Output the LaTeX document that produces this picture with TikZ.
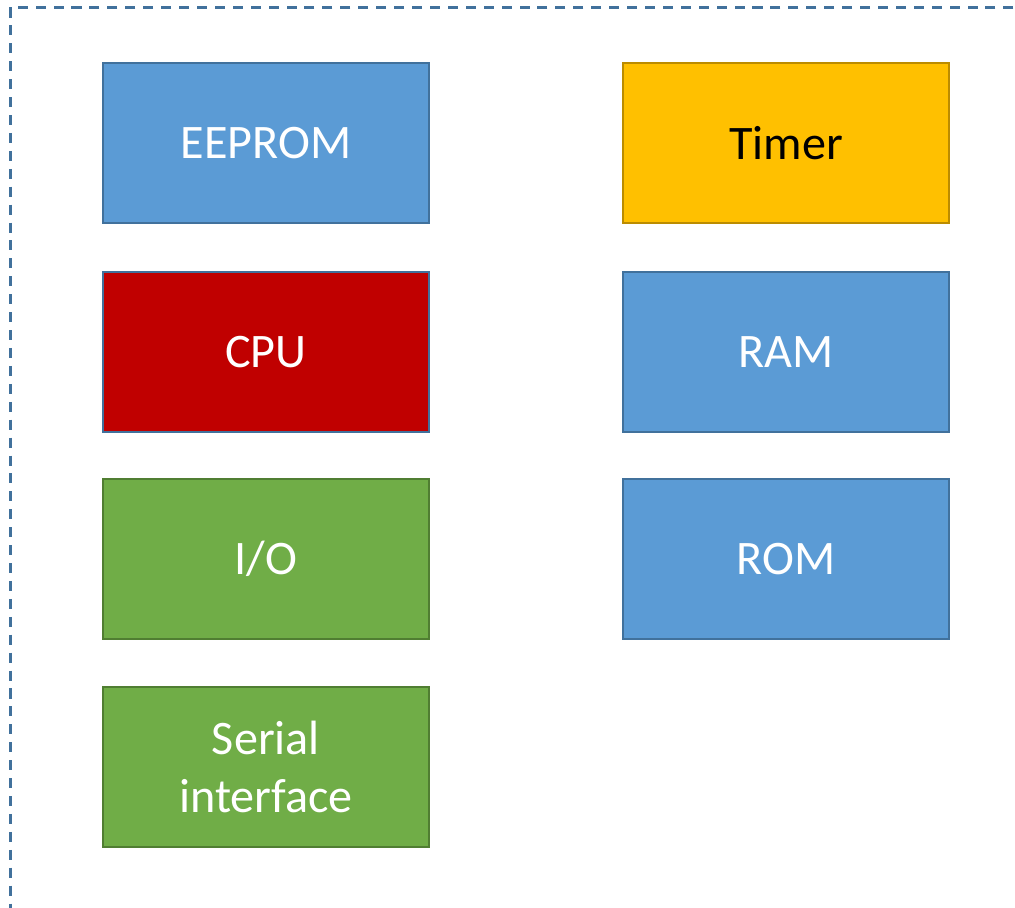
\documentclass[tikz,border=0pt]{standalone}
\usepackage{fontspec}
\setmainfont{Carlito}
\definecolor{blockblue}{HTML}{5B9BD5}
\definecolor{edgeblue}{HTML}{41719C}
\definecolor{blockorange}{HTML}{FFC000}
\definecolor{edgeorange}{HTML}{BC8C00}
\definecolor{blockred}{HTML}{C00000}
\definecolor{blockgreen}{HTML}{70AD47}
\definecolor{edgegreen}{HTML}{507E32}
\begin{document}
\begin{tikzpicture}[x=0.02cm, y=-0.02cm]

    \tikzset{
      block/.style={
        draw,
        line width=1.1pt,
        minimum width=6.52cm,
        minimum height=3.2cm,
        inner sep=0pt,
        align=center,
        text=white,
        font=\fontsize{27.4}{33}\selectfont,
      },
      memblock/.style={block, fill=blockblue, draw=edgeblue},
      ioblock/.style={block, fill=blockgreen, draw=edgegreen},
    }
    \useasboundingbox (0,0) rectangle (1015,908);
    \clip (0,0) rectangle (1015,908);

	 % outer frame, runs off the page to the right and below
	 \draw[edgeblue, line width=1.5pt, dash pattern=on 5.7pt off 4.5pt] (10.5,7.5) rectangle (1040,940);

	 \node[memblock] (eeprom) at (266,143) {EEPROM};

	 \node[block, fill=blockorange, draw=edgeorange, text=black] (timer) at (786,143) {Timer};

	 \node[block, fill=blockred, draw=edgeblue] (cpu) at (266,352) {CPU};

	 \node[memblock] (ram) at (786,352) {RAM};

	 \node[ioblock] (io) at (266,559) {I/O};

	 \node[memblock] (rom) at (786,559) {ROM};

	 \node[ioblock] (serial) at (266,767) {Serial\\interface};

\end{tikzpicture}
\end{document}
